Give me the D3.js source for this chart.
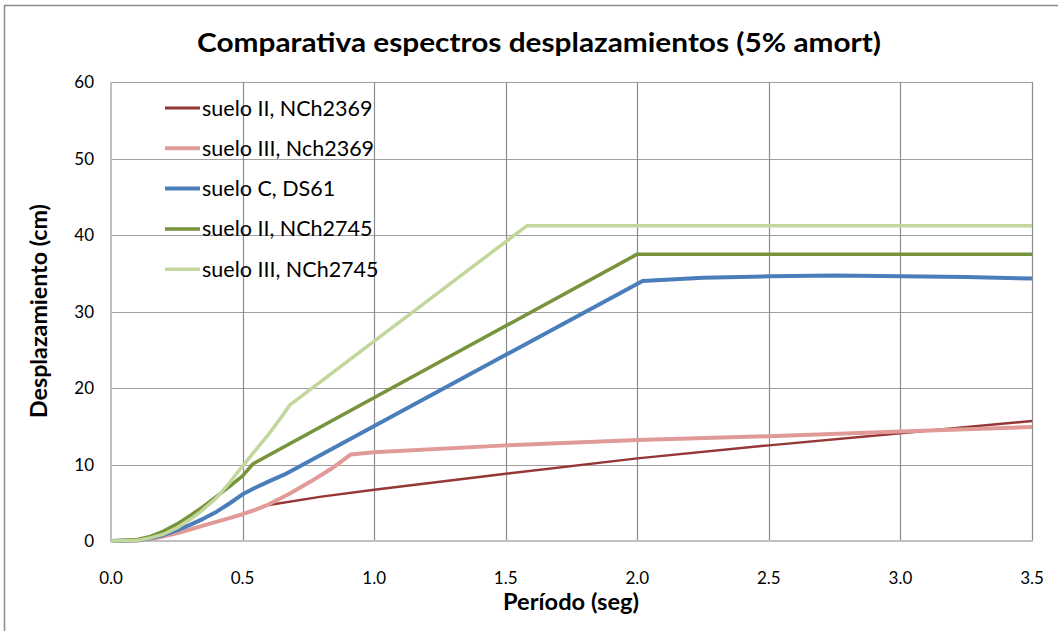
<!DOCTYPE html>
<html>
<head>
<meta charset="utf-8">
<script src="https://cdn.jsdelivr.net/npm/d3@7"></script>
<style>
  body { margin: 0; background: #fff; }
  svg { display: block; }
</style>
</head>
<body>
<svg id="chart" width="1058" height="631"></svg>
<script>
// series names and colours
var seriesNames = ["suelo II, NCh2369", "suelo III, Nch2369", "suelo C, DS61", "suelo II, NCh2745", "suelo III, NCh2745"];
var seriesColors = ["#953735", "#e09a98", "#4a7ebb", "#77933c", "#c3d69b"];
var seriesWidths = [2.5, 4, 4, 3.5, 3.5];

// [periodo, desplazamiento]
var sueloII_2369 = [[0.6, 4.7], [0.8, 5.8], [1.0, 6.7], [1.5, 8.8], [2.0, 10.8], [2.5, 12.5], [3.0, 14.1], [3.5, 15.7]];
var sueloIII_2369 = [[0, 0], [0.1, 0.05], [0.15, 0.3], [0.2, 0.6], [0.25, 1.0], [0.3, 1.5], [0.35, 2.0], [0.4, 2.5],
  [0.45, 3.0], [0.5, 3.5], [0.55, 4.1], [0.6, 4.8], [0.68, 6.2], [0.76, 7.8], [0.84, 9.5], [0.91, 11.3],
  [1.0, 11.6], [1.5, 12.5], [2.0, 13.2], [2.5, 13.7], [3.0, 14.3], [3.5, 14.9]];
var sueloC_DS61 = [[0, 0], [0.1, 0.1], [0.15, 0.35], [0.2, 0.8], [0.25, 1.4], [0.3, 2.1], [0.35, 2.9], [0.4, 3.8],
  [0.45, 4.9], [0.5, 6.1], [0.55, 7.0], [0.6, 7.8], [0.66, 8.7], [2.02, 34.0], [2.25, 34.4], [2.5, 34.6],
  [2.75, 34.7], [3.0, 34.6], [3.25, 34.5], [3.5, 34.3]];
var sueloII_2745 = [[0, 0], [0.1, 0.2], [0.15, 0.6], [0.2, 1.3], [0.25, 2.2], [0.3, 3.3], [0.35, 4.5], [0.4, 5.8],
  [0.45, 7.1], [0.5, 8.5], [0.54, 10.1], [2.0, 37.5], [3.5, 37.5]];
var sueloIII_2745 = [[0, 0], [0.1, 0.1], [0.15, 0.4], [0.2, 0.9], [0.25, 1.7], [0.3, 2.8], [0.34, 3.8], [0.4, 5.6],
  [0.45, 7.6], [0.5, 9.8], [0.55, 11.9], [0.6, 14.0], [0.65, 16.3], [0.68, 17.8], [1.58, 41.2], [3.5, 41.2]];
var allSeries = [sueloII_2369, sueloIII_2369, sueloC_DS61, sueloII_2745, sueloIII_2745];

var xTicks = [0, 0.5, 1.0, 1.5, 2.0, 2.5, 3.0, 3.5];
var yTicks = [0, 10, 20, 30, 40, 50, 60];

var svg = d3.select("#chart");
var plotLeft = 111, plotRight = 1032, plotTop = 82, plotBottom = 541;

var x = d3.scaleLinear().domain([0, 3.5]).range([plotLeft, plotRight]);
var y = d3.scaleLinear().domain([0, 60]).range([plotBottom, plotTop]);

// outer frame (only top/left visible)
svg.append("rect")
  .attr("x", 4.5).attr("y", 5.5)
  .attr("width", 1200).attr("height", 800)
  .attr("fill", "none").attr("stroke", "#8c8c8c").attr("stroke-width", 1.5);

// title
svg.append("text")
  .attr("x", 539).attr("y", 52)
  .attr("text-anchor", "middle")
  .style("font-family", "Lato, sans-serif")
  .style("font-weight", "bold")
  .style("font-size", "27px")
  .attr("textLength", 684).attr("lengthAdjust", "spacingAndGlyphs")
  .text("Comparativa espectros desplazamientos (5% amort)");

// gridlines
svg.append("g").selectAll("line")
  .data(yTicks.filter(d => d > 0))
  .enter().append("line")
  .attr("x1", plotLeft).attr("x2", plotRight)
  .attr("y1", d => Math.round(y(d)) + 0.5).attr("y2", d => Math.round(y(d)) + 0.5)
  .attr("stroke", "#a0a0a0").attr("stroke-width", 1.2);

svg.append("g").selectAll("line")
  .data(xTicks.filter(d => d > 0))
  .enter().append("line")
  .attr("y1", plotTop).attr("y2", plotBottom)
  .attr("x1", d => Math.round(x(d)) + 0.5).attr("x2", d => Math.round(x(d)) + 0.5)
  .attr("stroke", "#8c8c8c").attr("stroke-width", 1.2);

// axes lines
svg.append("line")
  .attr("x1", plotLeft).attr("x2", plotLeft).attr("y1", plotTop).attr("y2", plotBottom + 1)
  .attr("stroke", "#c0c0c0").attr("stroke-width", 2);
svg.append("line")
  .attr("x1", plotLeft).attr("x2", plotRight + 1).attr("y1", plotBottom).attr("y2", plotBottom)
  .attr("stroke", "#c0c0c0").attr("stroke-width", 2);

// tick labels
svg.append("g").selectAll("text")
  .data(yTicks)
  .enter().append("text")
  .attr("x", 94).attr("y", d => y(d) + 6)
  .attr("text-anchor", "end")
  .style("font-family", "Lato, sans-serif")
  .style("font-size", "17px")
  .text(d => d);

svg.append("g").selectAll("text")
  .data(xTicks)
  .enter().append("text")
  .attr("x", d => x(d)).attr("y", 584)
  .attr("text-anchor", "middle")
  .style("font-family", "Lato, sans-serif")
  .style("font-size", "17px")
  .text(d => d3.format(".1f")(d));

// axis titles
svg.append("text")
  .attr("x", 571).attr("y", 610)
  .attr("text-anchor", "middle")
  .style("font-family", "Lato, sans-serif")
  .style("font-weight", "bold")
  .style("font-size", "22px")
  .attr("textLength", 136).attr("lengthAdjust", "spacingAndGlyphs")
  .text("Período (seg)");

svg.append("text")
  .attr("transform", "translate(47,311) rotate(-90)")
  .attr("text-anchor", "middle")
  .style("font-family", "Lato, sans-serif")
  .style("font-weight", "bold")
  .style("font-size", "22px")
  .attr("textLength", 214).attr("lengthAdjust", "spacingAndGlyphs")
  .text("Desplazamiento (cm)");

// lines
var line = d3.line()
  .x(d => x(d[0]))
  .y(d => y(d[1]));

svg.append("g").selectAll("path")
  .data(allSeries)
  .enter().append("path")
  .attr("d", line)
  .attr("fill", "none")
  .attr("stroke", (d, i) => seriesColors[i])
  .attr("stroke-width", (d, i) => seriesWidths[i])
  .attr("stroke-linejoin", "round");

// legend
var legend = svg.append("g").selectAll("g")
  .data(seriesNames)
  .enter().append("g")
  .attr("transform", (d, i) => "translate(165," + (108 + i * 40.3) + ")");

legend.append("line")
  .attr("x1", 0).attr("x2", 35).attr("y1", 0).attr("y2", 0)
  .attr("stroke", (d, i) => seriesColors[i])
  .attr("stroke-width", (d, i) => Math.max(seriesWidths[i], 3));

legend.append("text")
  .attr("x", 37).attr("y", 7.5)
  .style("font-family", "Lato, sans-serif")
  .style("font-size", "21.5px")
  .text(d => d);
</script>
</body>
</html>
